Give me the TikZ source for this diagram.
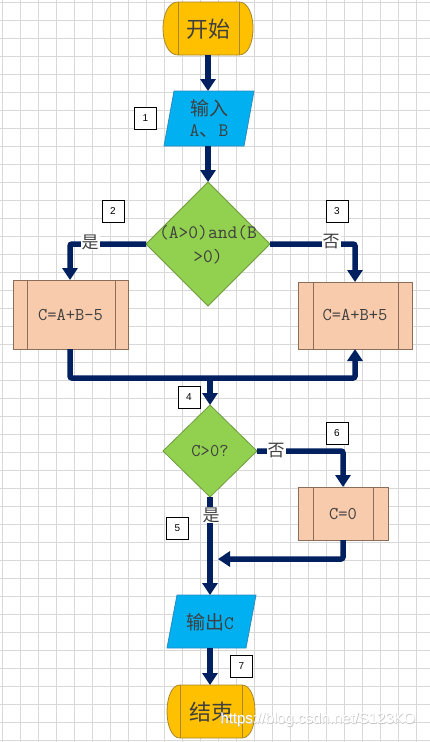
\documentclass[tikz,border=0pt]{standalone}
\usepackage{fontspec}
\newfontfamily\cjk{Noto Sans CJK SC}
\newfontfamily\numfont{Liberation Sans}
\usetikzlibrary{arrows.meta}
\definecolor{navy}{HTML}{002060}
\definecolor{gridc}{HTML}{D8D8D8}
\definecolor{termfill}{HTML}{FFC000}
\definecolor{termline}{HTML}{A8862A}
\definecolor{iofill}{HTML}{00B0F0}
\definecolor{ioline}{HTML}{2A8CC0}
\definecolor{decfill}{HTML}{92D050}
\definecolor{decline}{HTML}{6E9A3F}
\definecolor{procfill}{HTML}{F8CBAD}
\definecolor{procline}{HTML}{8C6D5A}
\definecolor{txtc}{HTML}{3F3F3F}
\tikzset{
  gridline/.style={draw=gridc, line width=0.7pt},
  conn/.style={draw=navy, line width=5.5pt, rounded corners=2pt},
  arr/.style={conn, -{Triangle[width=15pt,length=12pt]}},
  termshape/.style={fill=termfill, draw=termline, line width=0.8pt},
  ioshape/.style={fill=iofill, draw=ioline, line width=0.8pt},
  decshape/.style={fill=decfill, draw=decline, line width=0.8pt},
  procshape/.style={fill=procfill, draw=procline, line width=0.8pt},
  txt/.style={text=txtc, inner sep=0pt, align=center},
  cjkbig/.style={txt, font=\cjk\fontsize{22}{26}\selectfont},
  cjkmid/.style={txt, font=\cjk\fontsize{19}{22}\selectfont},
  monotxt/.style={txt, font=\ttfamily\fontsize{19}{24}\selectfont},
  boxtxt/.style={txt, font=\ttfamily\fontsize{18}{18}\selectfont},
  branchlab/.style={fill=white, text=txtc, inner sep=1pt, font=\cjk\fontsize{17}{17}\selectfont},
  numbox/.style={draw=black, fill=white, line width=0.7pt, minimum width=22pt, minimum height=22pt, inner sep=0pt, font=\numfont\fontsize{10}{10}\selectfont}
}
\begin{document}
\begin{tikzpicture}[x=1pt,y=-1pt]
\fill[white] (0,0) rectangle (430,742);
\useasboundingbox (0,0) rectangle (430,742);
\foreach \k in {0,...,23} \draw[gridline] ({2+18*\k},0) -- ({2+18*\k},742);
\foreach \k in {0,...,41} \draw[gridline] (0,{2+18*\k}) -- (430,{2+18*\k});

% start terminal
\path[termshape] (178,2) -- (239,2) .. controls (257.7,2) and (257.7,55) .. (239,55) -- (178,55) .. controls (158,55) and (158,2) .. (178,2) -- cycle;
\draw[termshape, fill=none] (178,2) -- (178,55) (239,2) -- (239,55);
\node[cjkbig] (start) at (208.5,29) {开始};
\coordinate (startS) at (208,55);

% input
\path[ioshape] (174,91) -- (254,91) -- (244,146) -- (164,146) -- cycle;
\node[cjkmid] (in1) at (209,108) {输入};
\node[txt, font=\ttfamily\fontsize{19}{19}\selectfont] (in2) at (209,131) {A{\cjk 、}B};
\coordinate (inN) at (208,91);
\coordinate (inS) at (208,146);

% decision 1
\path[decshape] (208,182) -- (270,244) -- (208,306) -- (146,244) -- cycle;
\node[monotxt] (d1) at (208,245) {(A>0)and(B\\>0)};
\coordinate (d1N) at (208,182);
\coordinate (d1W) at (146,244);
\coordinate (d1E) at (270,244);

% process left
\path[procshape] (13,280) rectangle (128,349);
\draw[procshape, fill=none] (27,280) -- (27,349) (115,280) -- (115,349);
\node[boxtxt] (pA) at (70.5,314.5) {C=A+B-5};
\coordinate (pAN) at (70,280);
\coordinate (pAS) at (70,349);

% process right
\path[procshape] (298,282) rectangle (412,349);
\draw[procshape, fill=none] (313,282) -- (313,349) (398,282) -- (398,349);
\node[boxtxt] (pB) at (355,315) {C=A+B+5};
\coordinate (pBN) at (355,282);
\coordinate (pBS) at (355,349);

\coordinate (junc) at (210,378);

% decision 2
\path[decshape] (210,405) -- (257,451) -- (210,497) -- (163,451) -- cycle;
\node[boxtxt] (d2) at (210,451) {C>0?};
\coordinate (d2N) at (210,405);
\coordinate (d2E) at (257,451);
\coordinate (d2S) at (210,497);

% process C=0
\path[procshape] (298,487) rectangle (388,540);
\draw[procshape, fill=none] (313,487) -- (313,540) (373,487) -- (373,540);
\node[boxtxt] (pC) at (343,513.5) {C=0};
\coordinate (pCN) at (343,487);
\coordinate (pCS) at (343,540);
\coordinate (merge) at (218,559);

% output
\path[ioshape] (177,595) -- (256,595) -- (246,648) -- (167,648) -- cycle;
\node[txt] (out) at (210,622) {{\cjk\fontsize{19}{19}\selectfont 输出}{\ttfamily\fontsize{19}{19}\selectfont C}};
\coordinate (outN) at (210,595);
\coordinate (outS) at (210,648);

% end terminal
\path[termshape] (180,685) -- (242,685) .. controls (259.3,685) and (259.3,738) .. (242,738) -- (180,738) .. controls (162.7,738) and (162.7,685) .. (180,685) -- cycle;
\draw[termshape, fill=none] (180,685) -- (180,738) (242,685) -- (242,738);
\node[cjkbig] (stop) at (211,712) {结束};
\coordinate (endN) at (210,685);

% connectors
\draw[arr] (startS) -- (inN);
\draw[arr] (inS) -- (d1N);
\draw[arr] (d1W) -| (pAN);
\draw[arr] (d1E) -| (pBN);
\draw[arr] (pAS) |- (junc) -| (pBS);
\draw[arr] (junc) -- (d2N);
\draw[arr] (d2E) -| (pCN);
\draw[arr] (pCS) |- (merge);
\draw[arr] (d2S) -- (outN);
\draw[arr] (outS) -- (endN);

% branch labels
\node[branchlab] (yes1) at (90,242) {是};
\node[branchlab] (no1) at (331,242) {否};
\node[branchlab] (no2) at (276,451) {否};
\node[branchlab] (yes2) at (211,515) {是};

% number boxes
\node[numbox] (n1) at (145.5,118) {1};
\node[numbox] (n2) at (113,211.5) {2};
\node[numbox] (n3) at (337,211.5) {3};
\node[numbox] (n4) at (189,397.5) {4};
\node[numbox] (n5) at (177.5,528.5) {5};
\node[numbox] (n6) at (337,433) {6};
\node[numbox] (n7) at (241.5,666.5) {7};

% watermark
\node[text=gray!45, inner sep=0pt, font=\numfont\fontsize{15}{15}\selectfont] (wmshadow) at (318.6,720.6) {https://blog.csdn.net/S123KO};
\node[text=white, inner sep=0pt, font=\numfont\fontsize{15}{15}\selectfont] (wm) at (318,720) {https://blog.csdn.net/S123KO};
\end{tikzpicture}
\end{document}
